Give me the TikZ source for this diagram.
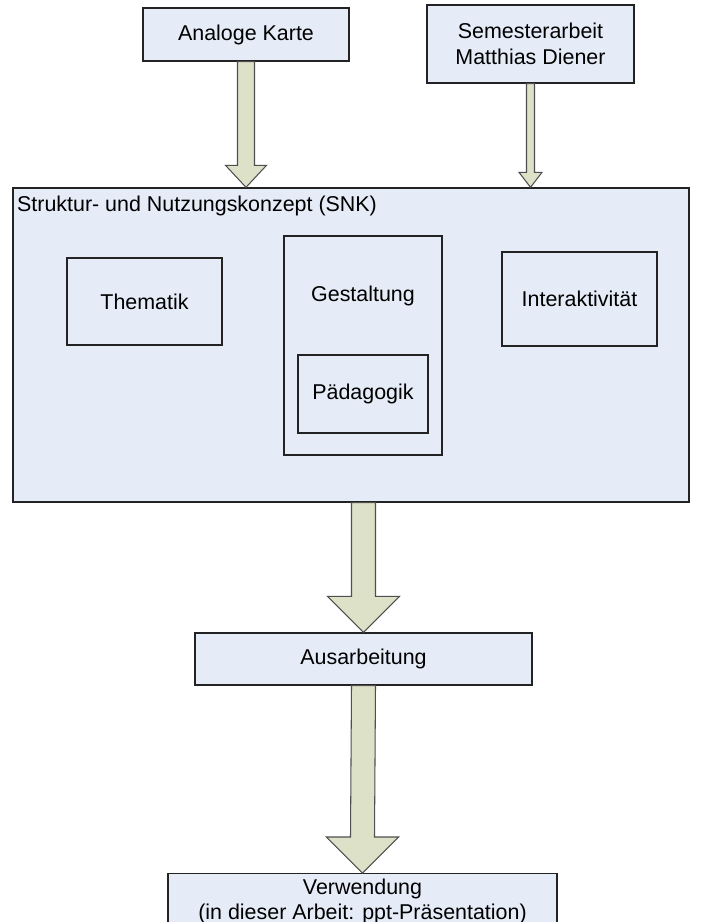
\documentclass[tikz,border=0pt]{standalone}
\usepackage{fontspec}
\setmainfont{Liberation Sans}
\usetikzlibrary{calc}

\definecolor{boxfill}{RGB}{230,236,247}
\definecolor{arrowfill}{RGB}{221,225,200}
\definecolor{edge}{RGB}{35,35,35}

\tikzset{
  box/.style={draw=edge, fill=boxfill, line width=0.8pt, inner sep=0pt, align=center,
    font=\fontsize{12.2}{15}\selectfont},
  boxtext/.style={inner sep=0pt, align=center, font=\fontsize{12.2}{15}\selectfont},
  blockarrow/.style={draw=edge!80, fill=arrowfill, line width=0.6pt, line join=miter}
}

% Blockpfeil: #1 Start, #2 Spitze, #3 halbe Schaftbreite, #4 halbe Kopfbreite, #5 Kopflaenge (px)
\newcommand{\flowarrow}[5]{%
  \draw[blockarrow] ($(#1)+(-#3,0)$) -- ($(#2)+(-#3,-#5)$) -- ($(#2)+(-#4,-#5)$) -- (#2)
    -- ($(#2)+(#4,-#5)$) -- ($(#2)+(#3,-#5)$) -- ($(#1)+(#3,0)$) -- cycle;}

\begin{document}
\begin{tikzpicture}[x=0.02cm, y=-0.02cm]
\clip (0,0) rectangle (700,922);
% Quellen
\node[box, minimum width=4.12cm, minimum height=1.06cm] (ak) at (246,34.5) {Analoge Karte};
\node[box, minimum width=4.14cm, minimum height=1.56cm] (sem) at (530.5,44) {Semesterarbeit\\Matthias Diener};
% SNK
\node[box, minimum width=13.52cm, minimum height=6.28cm] (snk) at (351,345) {};
\node[boxtext, anchor=north west, inner xsep=2.5pt, inner ysep=5pt] (snktitle) at (snk.north west)
  {Struktur- und Nutzungskonzept (SNK)};
\node[box, minimum width=3.1cm, minimum height=1.74cm] (them) at (144.5,301.5) {Thematik};
\node[box, minimum width=3.16cm, minimum height=4.38cm] (gest) at (363,345.5) {};
\node[boxtext] (gesttitle) at ($(gest.north)+(0,61)$) {Gestaltung};
\node[box, minimum width=2.6cm, minimum height=1.56cm] (pad) at (363,394) {P\"adagogik};
\node[box, minimum width=3.1cm, minimum height=1.88cm] (int) at (579.5,299) {Interaktivit\"at};
% Ergebnis
\node[box, minimum width=6.74cm, minimum height=1.04cm] (aus) at (363.5,659) {Ausarbeitung};
\node[box, anchor=north, minimum width=7.78cm, inner ysep=3pt, font=\fontsize{12.2}{14}\selectfont]
  (verw) at (362.5,873) {Verwendung\\(in dieser Arbeit: ppt-Pr\"asentation)};
% Pfeile
\coordinate (akout) at (ak.south);
\coordinate (akin) at (ak.south |- snk.north);
\coordinate (semout) at (sem.south);
\coordinate (semin) at (sem.south |- snk.north);
\coordinate (snkout) at (snk.south -| aus.north);
\coordinate (ausin) at (aus.north);
\coordinate (ausout) at (aus.south);
\coordinate (verwin) at (verw.north);
\foreach \s/\t/\w/\h/\l in {akout/akin/8.5/20.5/22, semout/semin/4/11.5/15,
    snkout/ausin/12/36/36, ausout/verwin/12/36/36}
  \flowarrow{\s}{\t}{\w}{\h}{\l};
\end{tikzpicture}
\end{document}
